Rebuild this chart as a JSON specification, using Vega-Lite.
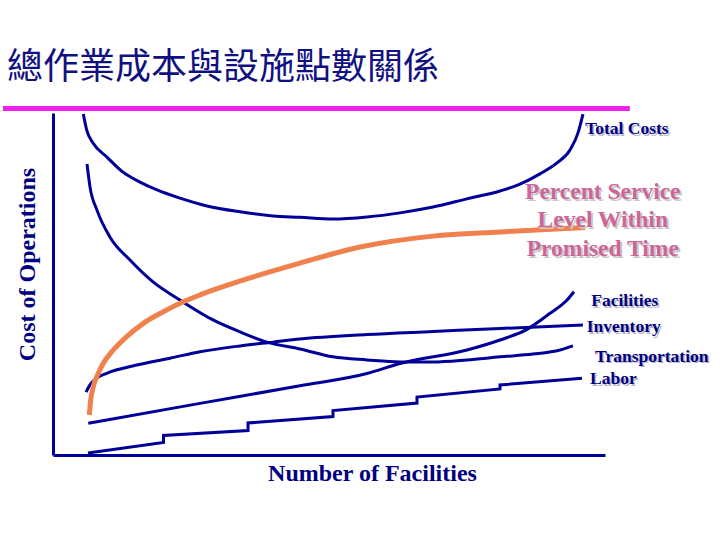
{
  "$schema": "https://vega.github.io/schema/vega-lite/v6.json",
  "width": 552,
  "height": 342,
  "autosize": {"type": "none"},
  "padding": {"left": 53, "top": 113, "right": 115, "bottom": 85},
  "background": "white",
  "config": {"view": {"stroke": null}},
  "title": {
    "text": "總作業成本與設施點數關係",
    "anchor": "start",
    "frame": "group",
    "dx": -46,
    "offset": 19,
    "font": "Noto Sans CJK TC",
    "fontSize": 36,
    "fontWeight": "normal",
    "color": "#101080"
  },
  "datasets": {
    "deco": [{"x": -9.06, "x2": 104.5, "y": 101.3}],
    "curves": [
      {"series": "Total Costs", "i": 1, "x": 5.49, "y": 99.7},
      {"series": "Total Costs", "i": 2, "x": 6.11, "y": 95.0},
      {"series": "Total Costs", "i": 3, "x": 7.25, "y": 91.2},
      {"series": "Total Costs", "i": 4, "x": 9.78, "y": 87.1},
      {"series": "Total Costs", "i": 5, "x": 12.68, "y": 82.7},
      {"series": "Total Costs", "i": 6, "x": 15.76, "y": 79.8},
      {"series": "Total Costs", "i": 7, "x": 18.84, "y": 77.5},
      {"series": "Total Costs", "i": 8, "x": 23.01, "y": 75.1},
      {"series": "Total Costs", "i": 9, "x": 27.9, "y": 72.8},
      {"series": "Total Costs", "i": 10, "x": 33.88, "y": 71.1},
      {"series": "Total Costs", "i": 11, "x": 39.86, "y": 69.9},
      {"series": "Total Costs", "i": 12, "x": 44.75, "y": 69.5},
      {"series": "Total Costs", "i": 13, "x": 50.72, "y": 69.0},
      {"series": "Total Costs", "i": 14, "x": 56.88, "y": 69.6},
      {"series": "Total Costs", "i": 15, "x": 62.86, "y": 70.8},
      {"series": "Total Costs", "i": 16, "x": 68.84, "y": 72.5},
      {"series": "Total Costs", "i": 17, "x": 75.0, "y": 74.9},
      {"series": "Total Costs", "i": 18, "x": 80.98, "y": 77.2},
      {"series": "Total Costs", "i": 19, "x": 84.6, "y": 79.2},
      {"series": "Total Costs", "i": 20, "x": 88.22, "y": 82.2},
      {"series": "Total Costs", "i": 21, "x": 91.3, "y": 85.4},
      {"series": "Total Costs", "i": 22, "x": 93.66, "y": 89.2},
      {"series": "Total Costs", "i": 23, "x": 95.11, "y": 94.2},
      {"series": "Total Costs", "i": 24, "x": 96.01, "y": 99.7},
      {"series": "Transportation", "i": 1, "x": 6.16, "y": 85.1},
      {"series": "Transportation", "i": 2, "x": 6.7, "y": 78.4},
      {"series": "Transportation", "i": 3, "x": 7.97, "y": 71.6},
      {"series": "Transportation", "i": 4, "x": 10.33, "y": 63.7},
      {"series": "Transportation", "i": 5, "x": 13.95, "y": 57.0},
      {"series": "Transportation", "i": 6, "x": 18.12, "y": 50.6},
      {"series": "Transportation", "i": 7, "x": 23.01, "y": 45.3},
      {"series": "Transportation", "i": 8, "x": 28.99, "y": 39.5},
      {"series": "Transportation", "i": 9, "x": 33.88, "y": 36.0},
      {"series": "Transportation", "i": 10, "x": 38.77, "y": 33.0},
      {"series": "Transportation", "i": 11, "x": 44.75, "y": 31.0},
      {"series": "Transportation", "i": 12, "x": 50.72, "y": 28.7},
      {"series": "Transportation", "i": 13, "x": 56.88, "y": 27.8},
      {"series": "Transportation", "i": 14, "x": 62.86, "y": 27.2},
      {"series": "Transportation", "i": 15, "x": 68.84, "y": 27.2},
      {"series": "Transportation", "i": 16, "x": 75.0, "y": 27.8},
      {"series": "Transportation", "i": 17, "x": 80.98, "y": 28.7},
      {"series": "Transportation", "i": 18, "x": 86.96, "y": 29.5},
      {"series": "Transportation", "i": 19, "x": 91.85, "y": 30.7},
      {"series": "Transportation", "i": 20, "x": 94.2, "y": 31.9},
      {"series": "Facilities", "i": 1, "x": 6.39, "y": 9.27},
      {"series": "Facilities", "i": 2, "x": 26.63, "y": 15.09},
      {"series": "Facilities", "i": 3, "x": 44.75, "y": 20.26},
      {"series": "Facilities", "i": 4, "x": 56.88, "y": 23.83},
      {"series": "Facilities", "i": 5, "x": 62.86, "y": 26.75},
      {"series": "Facilities", "i": 6, "x": 75.0, "y": 30.7},
      {"series": "Facilities", "i": 7, "x": 80.98, "y": 33.63},
      {"series": "Facilities", "i": 8, "x": 85.87, "y": 36.75},
      {"series": "Facilities", "i": 9, "x": 90.04, "y": 41.43},
      {"series": "Facilities", "i": 10, "x": 93.12, "y": 45.32},
      {"series": "Facilities", "i": 11, "x": 94.38, "y": 47.75},
      {"series": "Inventory", "i": 1, "x": 5.98, "y": 18.4},
      {"series": "Inventory", "i": 2, "x": 6.70, "y": 20.5},
      {"series": "Inventory", "i": 3, "x": 7.91, "y": 22.5},
      {"series": "Inventory", "i": 4, "x": 9.72, "y": 23.9},
      {"series": "Inventory", "i": 5, "x": 15.16, "y": 26.3},
      {"series": "Inventory", "i": 6, "x": 21.2, "y": 28.3},
      {"series": "Inventory", "i": 7, "x": 26.63, "y": 30.2},
      {"series": "Inventory", "i": 8, "x": 33.88, "y": 31.9},
      {"series": "Inventory", "i": 9, "x": 39.86, "y": 33.0},
      {"series": "Inventory", "i": 10, "x": 44.75, "y": 33.9},
      {"series": "Inventory", "i": 11, "x": 56.88, "y": 35.2},
      {"series": "Inventory", "i": 12, "x": 68.84, "y": 36.1},
      {"series": "Inventory", "i": 13, "x": 80.98, "y": 37.0},
      {"series": "Inventory", "i": 14, "x": 96.0, "y": 38.0},
      {"series": "Service Level", "i": 1, "x": 6.58, "y": 11.7},
      {"series": "Service Level", "i": 2, "x": 6.83, "y": 16.1},
      {"series": "Service Level", "i": 3, "x": 7.3, "y": 20.0},
      {"series": "Service Level", "i": 4, "x": 8.21, "y": 23.9},
      {"series": "Service Level", "i": 5, "x": 9.11, "y": 26.8},
      {"series": "Service Level", "i": 6, "x": 10.92, "y": 30.7},
      {"series": "Service Level", "i": 7, "x": 13.35, "y": 34.6},
      {"series": "Service Level", "i": 8, "x": 16.36, "y": 38.5},
      {"series": "Service Level", "i": 9, "x": 19.98, "y": 41.9},
      {"series": "Service Level", "i": 10, "x": 23.61, "y": 44.8},
      {"series": "Service Level", "i": 11, "x": 26.63, "y": 46.8},
      {"series": "Service Level", "i": 12, "x": 35.14, "y": 51.5},
      {"series": "Service Level", "i": 13, "x": 44.75, "y": 56.1},
      {"series": "Service Level", "i": 14, "x": 55.62, "y": 60.8},
      {"series": "Service Level", "i": 15, "x": 68.84, "y": 64.0},
      {"series": "Service Level", "i": 16, "x": 80.98, "y": 65.2},
      {"series": "Service Level", "i": 17, "x": 96.37, "y": 66.5}
    ],
    "labor": [
      {"i": 1, "x": 6.34, "y": 0.58},
      {"i": 2, "x": 20.02, "y": 3.65},
      {"i": 3, "x": 20.02, "y": 5.7},
      {"i": 4, "x": 35.33, "y": 7.16},
      {"i": 5, "x": 35.33, "y": 9.36},
      {"i": 6, "x": 50.72, "y": 11.26},
      {"i": 7, "x": 50.72, "y": 13.01},
      {"i": 8, "x": 65.94, "y": 15.2},
      {"i": 9, "x": 65.94, "y": 16.96},
      {"i": 10, "x": 80.98, "y": 19.3},
      {"i": 11, "x": 80.98, "y": 20.47},
      {"i": 12, "x": 95.83, "y": 22.43}
    ],
    "labels": [
      {"text": "Total Costs", "x": 96.4, "y": 95.3},
      {"text": "Facilities", "x": 97.5, "y": 45.0},
      {"text": "Inventory", "x": 96.7, "y": 37.4},
      {"text": "Transportation", "x": 98.2, "y": 28.7},
      {"text": "Labor", "x": 97.3, "y": 22.2}
    ],
    "service": [
      {"text": "Percent Service", "x": 99.6, "y": 76.9},
      {"text": "Level Within", "x": 99.6, "y": 68.7},
      {"text": "Promised Time", "x": 99.6, "y": 60.2}
    ]
  },
  "encoding": {
    "x": {
      "field": "x",
      "type": "quantitative",
      "scale": {"domain": [0, 100], "nice": false, "zero": false},
      "axis": {
        "title": "Number of Facilities",
        "domain": true,
        "domainColor": "#000099",
        "domainWidth": 3,
        "ticks": false,
        "labels": false,
        "grid": false,
        "titleFont": "Liberation Serif",
        "titleFontWeight": "bold",
        "titleFontSize": 24,
        "titleColor": "#000080",
        "titleX": 319,
        "titleY": 18,
        "titleAlign": "center",
        "titleBaseline": "middle"
      }
    },
    "y": {
      "field": "y",
      "type": "quantitative",
      "scale": {"domain": [0, 100], "nice": false, "zero": false},
      "axis": {
        "title": "Cost of Operations",
        "domain": true,
        "domainColor": "#000099",
        "domainWidth": 3,
        "ticks": false,
        "labels": false,
        "grid": false,
        "titleFont": "Liberation Serif",
        "titleFontWeight": "bold",
        "titleFontSize": 24,
        "titleColor": "#000080",
        "titleAngle": -90,
        "titleX": -26,
        "titleY": 151,
        "titleAlign": "center",
        "titleBaseline": "middle"
      }
    }
  },
  "layer": [
    {
      "data": {"name": "deco"},
      "mark": {"type": "rule", "color": "#EE22EE", "strokeWidth": 5, "clip": false},
      "encoding": {"x2": {"field": "x2"}}
    },
    {
      "data": {"name": "curves"},
      "transform": [{"filter": "datum.series != 'Service Level'"}],
      "mark": {"type": "line", "color": "#000099", "strokeWidth": 3, "interpolate": "monotone", "clip": false},
      "encoding": {"detail": {"field": "series"}, "order": {"field": "i", "type": "quantitative"}}
    },
    {
      "data": {"name": "labor"},
      "mark": {"type": "line", "color": "#000099", "strokeWidth": 3, "clip": false},
      "encoding": {"order": {"field": "i", "type": "quantitative"}}
    },
    {
      "data": {"name": "curves"},
      "transform": [{"filter": "datum.series == 'Service Level'"}],
      "mark": {"type": "line", "color": "#F0804C", "strokeWidth": 5, "interpolate": "monotone", "clip": false},
      "encoding": {"order": {"field": "i", "type": "quantitative"}}
    },
    {
      "data": {"name": "labels"},
      "mark": {"type": "text", "align": "left", "baseline": "middle", "font": "Liberation Serif", "fontWeight": "bold", "fontSize": 17.5, "color": "#b8b8c8", "dx": 1.5, "dy": 1.5, "clip": false},
      "encoding": {"text": {"field": "text"}}
    },
    {
      "data": {"name": "labels"},
      "mark": {"type": "text", "align": "left", "baseline": "middle", "font": "Liberation Serif", "fontWeight": "bold", "fontSize": 17.5, "color": "#000080", "clip": false},
      "encoding": {"text": {"field": "text"}}
    },
    {
      "data": {"name": "service"},
      "mark": {"type": "text", "align": "center", "baseline": "middle", "font": "Liberation Serif", "fontWeight": "bold", "fontSize": 23.5, "color": "#c8c8c8", "dx": 2, "dy": 2, "clip": false},
      "encoding": {"text": {"field": "text"}}
    },
    {
      "data": {"name": "service"},
      "mark": {"type": "text", "align": "center", "baseline": "middle", "font": "Liberation Serif", "fontWeight": "bold", "fontSize": 23.5, "color": "#CC6699", "clip": false},
      "encoding": {"text": {"field": "text"}}
    }
  ]
}
